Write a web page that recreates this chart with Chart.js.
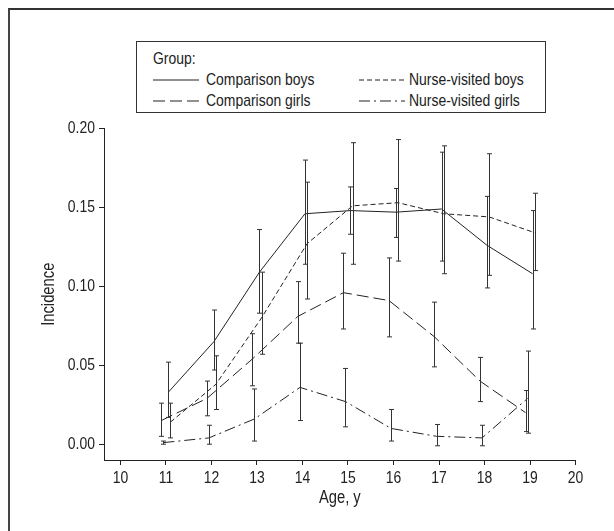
<!DOCTYPE html>
<html>
<head>
<meta charset="utf-8">
<script src="https://cdn.jsdelivr.net/npm/chart.js@4.4.0/dist/chart.umd.min.js"></script>
<style>
  html, body { margin: 0; padding: 0; background: #fff; }
  #wrap { position: relative; width: 614px; height: 531px; overflow: hidden; }
  #frame { position: absolute; left: 8px; top: 8px; width: 700px; height: 600px;
           border-top: 2px solid #333; border-left: 2px solid #444; }
  #chart { position: absolute; left: 0; top: 0; }
  #legend { position: absolute; left: 136px; top: 41px; width: 408px; height: 70px;
            border: 1px solid #333; background: #fff;
            font: 17px 'Liberation Sans', Arial, sans-serif; color: #222; }
  #legend .t { position: absolute; line-height: 20px; white-space: nowrap;
               transform: scaleX(0.82); transform-origin: 0 50%; }
  #legend svg { position: absolute; }
</style>
</head>
<body>
<div id="wrap">
  <div id="frame"></div>
  <canvas id="chart" width="614" height="531"></canvas>
  <div id="legend"><div class="t" style="left:16px;top:7px">Group:</div></div>
</div>
<script>
const AGES = [11, 12, 13, 14, 15, 16, 17, 18, 19];
const X_TICKS = [10, 11, 12, 13, 14, 15, 16, 17, 18, 19, 20];
const Y_TICKS = [0, 0.05, 0.10, 0.15, 0.20];

// Comparison boys
const compBoys   = [0.033, 0.065, 0.109, 0.146, 0.148, 0.147, 0.149, 0.126, 0.108];
const compBoysLo = [0.017, 0.047, 0.083, 0.114, 0.133, 0.131, 0.116, 0.099, 0.073];
const compBoysHi = [0.052, 0.085, 0.136, 0.180, 0.163, 0.162, 0.185, 0.157, 0.148];

// Nurse-visited boys
const nurseBoys   = [0.014, 0.038, 0.080, 0.127, 0.151, 0.153, 0.146, 0.144, 0.134];
const nurseBoysLo = [0.004, 0.022, 0.057, 0.092, 0.114, 0.116, 0.108, 0.107, 0.110];
const nurseBoysHi = [0.026, 0.056, 0.109, 0.166, 0.191, 0.193, 0.189, 0.184, 0.159];

// Comparison girls
const compGirls   = [0.015, 0.029, 0.054, 0.081, 0.096, 0.091, 0.068, 0.040, 0.020];
const compGirlsLo = [0.005, 0.018, 0.037, 0.064, 0.073, 0.068, 0.049, 0.027, 0.008];
const compGirlsHi = [0.026, 0.040, 0.070, 0.103, 0.121, 0.118, 0.090, 0.055, 0.034];

// Nurse-visited girls
const nurseGirls   = [0.001, 0.004, 0.016, 0.036, 0.027, 0.010, 0.005, 0.004, 0.029];
const nurseGirlsLo = [0.000, 0.000, 0.002, 0.015, 0.011, 0.002, -0.001, -0.001, 0.007];
const nurseGirlsHi = [0.002, 0.012, 0.035, 0.064, 0.048, 0.022, 0.0125, 0.012, 0.059];

const FONT = { family: "'Liberation Sans', Arial, sans-serif", size: 17 };
const TITLE_FONT = { family: "'Liberation Sans', Arial, sans-serif", size: 18 };
const INK = '#222';

// dodge: each group is drawn a little left or right of the age
function series(label, vals, lo, hi, dodge, dash, col, row) {
  return {
    label,
    data: vals.map((v, i) => ({ x: AGES[i] + dodge, y: v })),
    errLo: lo, errHi: hi,
    borderColor: INK, borderWidth: 1, borderDash: dash,
    pointRadius: 0, tension: 0, fill: false,
    legendCol: col, legendRow: row
  };
}

const datasets = [
  series('Comparison boys', compBoys, compBoysLo, compBoysHi, 0.055, [], 0, 0),
  series('Nurse-visited boys', nurseBoys, nurseBoysLo, nurseBoysHi, 0.1, [5, 3], 1, 0),
  series('Comparison girls', compGirls, compGirlsLo, compGirlsHi, -0.1, [12, 5], 0, 1),
  series('Nurse-visited girls', nurseGirls, nurseGirlsLo, nurseGirlsHi, -0.055, [11, 4, 2, 4], 1, 1)
];

// error bars with small caps
const errorBars = {
  id: 'errorBars',
  afterDatasetsDraw(chart) {
    const { ctx, scales: { x, y } } = chart;
    ctx.save();
    ctx.strokeStyle = '#333';
    ctx.lineWidth = 1;
    ctx.setLineDash([]);
    chart.data.datasets.forEach(ds => {
      ds.data.forEach((p, i) => {
        const px = Math.round(x.getPixelForValue(p.x)) + 0.5;
        const yl = y.getPixelForValue(ds.errLo[i]);
        const yh = y.getPixelForValue(ds.errHi[i]);
        ctx.beginPath();
        ctx.moveTo(px, yl); ctx.lineTo(px, yh);
        ctx.moveTo(px - 2.5, yl); ctx.lineTo(px + 2.5, yl);
        ctx.moveTo(px - 2.5, yh); ctx.lineTo(px + 2.5, yh);
        ctx.stroke();
      });
    });
    ctx.restore();
  }
};

// no narrow face installed: squeeze canvas text like Arial Narrow
const canvas = document.getElementById('chart');
const c2d = canvas.getContext('2d');
const rawFillText = c2d.fillText.bind(c2d);
c2d.fillText = function (text, x, y, maxWidth) {
  const w = this.measureText(text).width * 0.82;
  rawFillText(text, x, y, maxWidth !== undefined ? Math.min(maxWidth, w) : w);
};

new Chart(canvas, {
  type: 'line',
  data: { datasets },
  plugins: [errorBars],
  options: {
    responsive: false,
    animation: false,
    layout: { padding: { left: 0, right: 38.4, top: 128.5, bottom: 0 } },
    plugins: { legend: { display: false }, tooltip: { enabled: false } },
    scales: {
      x: {
        type: 'linear', min: 9.64, max: 20,
        afterBuildTicks: s => { s.ticks = X_TICKS.map(v => ({ value: v })); },
        afterFit: s => { s.height = 71; s.paddingLeft = 0; s.paddingRight = 0; },
        grid: { display: true, drawOnChartArea: false, drawTicks: true, tickLength: 5, color: INK },
        border: { display: true, color: INK, width: 1 },
        ticks: { font: FONT, color: INK, padding: 3, maxRotation: 0, autoSkip: false },
        title: { display: true, text: 'Age, y', font: TITLE_FONT, color: INK, padding: { top: 0, bottom: 22.6 } }
      },
      y: {
        type: 'linear', min: -0.01, max: 0.2,
        afterBuildTicks: s => { s.ticks = Y_TICKS.map(v => ({ value: v })); },
        afterFit: s => { s.width = 104; s.paddingTop = 0; s.paddingBottom = 0; },
        grid: { display: true, drawOnChartArea: false, drawTicks: true, tickLength: 5, color: INK },
        border: { display: true, color: INK, width: 1 },
        ticks: { font: FONT, color: INK, padding: 4, callback: v => v.toFixed(2) },
        title: { display: true, text: 'Incidence', font: TITLE_FONT, color: INK, padding: { top: 38.2, bottom: 0 } }
      }
    }
  }
});

// legend built from the datasets
const legend = document.getElementById('legend');
const COL_LINE = [16, 222], COL_TEXT = [69, 272], ROW_Y = [38, 59];
datasets.forEach(ds => {
  const c = ds.legendCol, r = ds.legendRow;
  const svg = document.createElementNS('http://www.w3.org/2000/svg', 'svg');
  svg.setAttribute('width', 46); svg.setAttribute('height', 4);
  svg.style.left = COL_LINE[c] + 'px'; svg.style.top = (ROW_Y[r] - 2) + 'px';
  const ln = document.createElementNS('http://www.w3.org/2000/svg', 'line');
  ln.setAttribute('x1', 0); ln.setAttribute('x2', 46);
  ln.setAttribute('y1', 2); ln.setAttribute('y2', 2);
  ln.setAttribute('stroke', INK); ln.setAttribute('stroke-width', 1);
  if (ds.borderDash.length) ln.setAttribute('stroke-dasharray', ds.borderDash.join(' '));
  svg.appendChild(ln);
  legend.appendChild(svg);
  const t = document.createElement('div');
  t.className = 't';
  t.textContent = ds.label;
  t.style.left = COL_TEXT[c] + 'px'; t.style.top = (ROW_Y[r] - 10) + 'px';
  legend.appendChild(t);
});
</script>
</body>
</html>
